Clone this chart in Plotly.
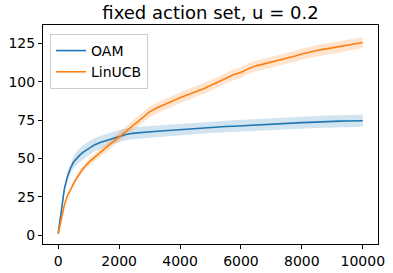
import plotly.graph_objects as go

steps = [0, 100, 200, 300, 400, 500, 600, 700, 800, 1000, 1200, 1400, 1600, 1800, 2000,
         2250, 2500, 2750, 3000, 3250, 3500, 3750, 4000, 4250, 4500, 4750, 5000, 5250,
         5500, 5750, 6000, 6250, 6500, 6750, 7000, 7250, 7500, 7750, 8000, 8250, 8500,
         8750, 9000, 9250, 9500, 9750, 10000]

oam_mean = [1, 17, 30, 38, 43.5, 47.5, 50, 52, 53.8, 56.5, 59, 60.6, 61.8, 63.2, 64.6,
            65.8, 66.5, 67.0, 67.4, 67.7, 68.0, 68.4, 68.8, 69.2, 69.6, 70.0, 70.4, 70.6,
            70.8, 71.0, 71.3, 71.6, 71.9, 72.2, 72.5, 72.7, 72.9, 73.1, 73.3, 73.5, 73.8,
            74.0, 74.2, 74.3, 74.4, 74.5, 74.6]
oam_ci = [0, 1.5, 2.5, 3, 3.5, 4, 4.3, 4.5, 4.5, 4.5, 4.3, 4.2, 4.0, 4.0, 3.9,
          3.9, 3.8, 3.8, 3.8, 3.8, 3.8, 3.8, 3.8, 3.8, 3.8, 3.8, 3.8, 3.8,
          3.8, 3.8, 3.8, 3.8, 3.8, 3.8, 3.8, 3.8, 3.9, 3.9, 3.9, 3.9, 3.9,
          3.9, 3.9, 3.9, 3.9, 3.9, 3.9]

lin_mean = [1, 11, 19.5, 25.5, 30, 33.5, 37, 40, 43, 47.5, 51, 54.5, 57.5, 60.8, 64,
            68.5, 72.5, 76.5, 80.3, 83, 85.3, 87.5, 89.5, 91.5, 93.3, 95.3, 97.5, 100,
            102.5, 104.5, 106, 108.5, 110.3, 111.5, 112.5, 113.7, 115, 116.5, 118, 119.3, 120.3,
            121.2, 122.0, 122.8, 123.7, 124.6, 125.5]
lin_ci = [0, 0.5, 0.8, 1, 1.2, 1.4, 1.6, 1.8, 2, 2.2, 2.4, 2.6, 2.8, 3, 3.1,
          3.2, 3.3, 3.4, 3.5, 3.5, 3.5, 3.5, 3.5, 3.5, 3.5, 3.5, 3.5, 3.5,
          3.5, 3.5, 3.5, 3.5, 3.5, 3.5, 3.5, 3.5, 3.5, 3.5, 3.5, 3.5, 3.5,
          3.5, 3.5, 3.5, 3.5, 3.5, 3.5]

series = [
    ("OAM", oam_mean, oam_ci, "#1f77b4", "rgba(31,119,180,0.2)"),
    ("LinUCB", lin_mean, lin_ci, "#ff7f0e", "rgba(255,127,14,0.2)"),
]

fig = go.Figure()
for name, mean, ci, color, fillc in series:
    upper = [m + c for m, c in zip(mean, ci)]
    lower = [m - c for m, c in zip(mean, ci)]
    fig.add_trace(go.Scatter(x=steps + steps[::-1], y=upper + lower[::-1],
                             fill="toself", fillcolor=fillc, line=dict(width=0),
                             mode="lines", showlegend=False, hoverinfo="skip"))
for name, mean, ci, color, fillc in series:
    fig.add_trace(go.Scatter(x=steps, y=mean, mode="lines", name=name,
                             line=dict(color=color, width=1.6)))

axis_common = dict(showline=True, linecolor="black", linewidth=1, mirror=True,
                   ticks="outside", ticklen=4, tickcolor="black", showgrid=False,
                   zeroline=False, automargin=False,
                   tickfont=dict(family="DejaVu Sans", size=14, color="black"))

fig.update_layout(
    width=393, height=273,
    margin=dict(l=43, r=15, t=25, b=29, autoexpand=False),
    paper_bgcolor="white", plot_bgcolor="white",
    font=dict(family="DejaVu Sans", size=14, color="black"),
    title=dict(text="fixed action set, u = 0.2", x=0.5, xanchor="center",
               xref="paper", y=0.955, yanchor="middle",
               font=dict(family="DejaVu Sans", size=18)),
    xaxis=dict(range=[-500, 10500], tickvals=[0, 2000, 4000, 6000, 8000, 10000],
               ticktext=["0", "2000", "4000", "6000", "8000", "10000"], **axis_common),
    yaxis=dict(range=[-5.7, 136.9], tickvals=[0, 25, 50, 75, 100, 125], **axis_common),
    legend=dict(x=0.021, y=0.959, xanchor="left", yanchor="top",
                bgcolor="rgba(255,255,255,0.8)", bordercolor="#cccccc", borderwidth=1,
                font=dict(family="DejaVu Sans", size=14)),
)

fig.write_html("out.html", config={"displayModeBar": False},
               post_script="document.body.style.margin='0';document.body.style.padding='0';")
